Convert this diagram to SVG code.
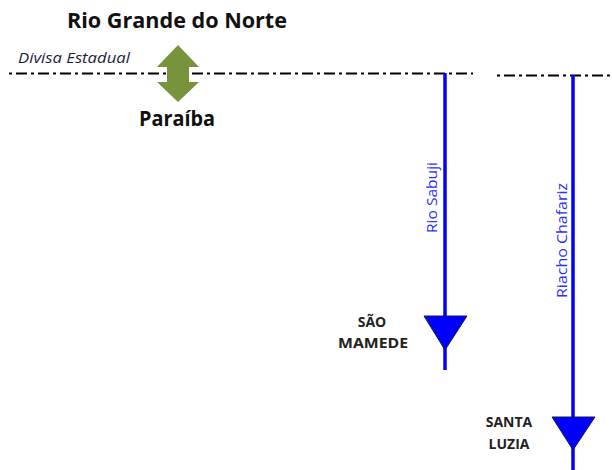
<svg xmlns="http://www.w3.org/2000/svg" width="612" height="470" viewBox="0 0 612 470">
<style>
.div{stroke:#000;stroke-width:2;stroke-dasharray:3 4 11 4;fill:none}
.river{stroke:#0000FF;stroke-width:3.5;fill:none}
.tri{fill:#0000FF;stroke:#1a1a4a;stroke-width:1}
.lbl{font-family:"Open Sans","Liberation Sans",sans-serif;font-weight:bold;font-size:14px;fill:#222;text-anchor:middle}
.rlbl{font-family:"Open Sans","Liberation Sans",sans-serif;font-size:14.5px;fill:#2e2eff}
.state{font-family:"Open Sans","Liberation Sans",sans-serif;font-weight:bold;font-size:21px;fill:#111}
</style>
<rect width="612" height="470" fill="#fff"/>
<g id="divisa">
<line class="div" x1="9" y1="73.5" x2="473" y2="73.5"/>
<line class="div" x1="497" y1="75.5" x2="612" y2="75.5"/>
<text x="18" y="63" font-family="'Open Sans','Liberation Sans',sans-serif" font-style="italic" font-size="14" fill="#1e1e3c" textLength="112" lengthAdjust="spacingAndGlyphs">Divisa Estadual</text>
</g>
<g id="states">
<text class="state" x="67" y="28" textLength="220" lengthAdjust="spacingAndGlyphs">Rio Grande do Norte</text>
<text class="state" x="139" y="126" textLength="76" lengthAdjust="spacingAndGlyphs">Paraíba</text>
<polygon fill="#77933C" points="178,45 199,67 189,67 189,82 199,82 178,102 157,82 167,82 167,67 157,67"/>
</g>
<g id="connectors">
<line class="river" x1="445" y1="73" x2="445" y2="370"/>
<line class="river" x1="573" y1="75" x2="573" y2="470"/>
</g>
<g id="rio-sabuji">
<text class="rlbl" transform="translate(437,233) rotate(-90)" textLength="71" lengthAdjust="spacingAndGlyphs">Rio Sabuji</text>
</g>
<g id="riacho-chafariz">
<text class="rlbl" transform="translate(567,298) rotate(-90)" textLength="115" lengthAdjust="spacingAndGlyphs">Riacho Chafariz</text>
</g>
<g id="sao-mamede">
<polygon class="tri" points="424,316 467,316 445,350"/>
<text class="lbl" x="372" y="327">SÃO</text>
<text class="lbl" x="373" y="348" textLength="70" lengthAdjust="spacingAndGlyphs">MAMEDE</text>
</g>
<g id="santa-luzia">
<polygon class="tri" points="552,417 595,417 573,450"/>
<text class="lbl" x="509" y="427">SANTA</text>
<text class="lbl" x="509" y="449">LUZIA</text>
</g>
</svg>
